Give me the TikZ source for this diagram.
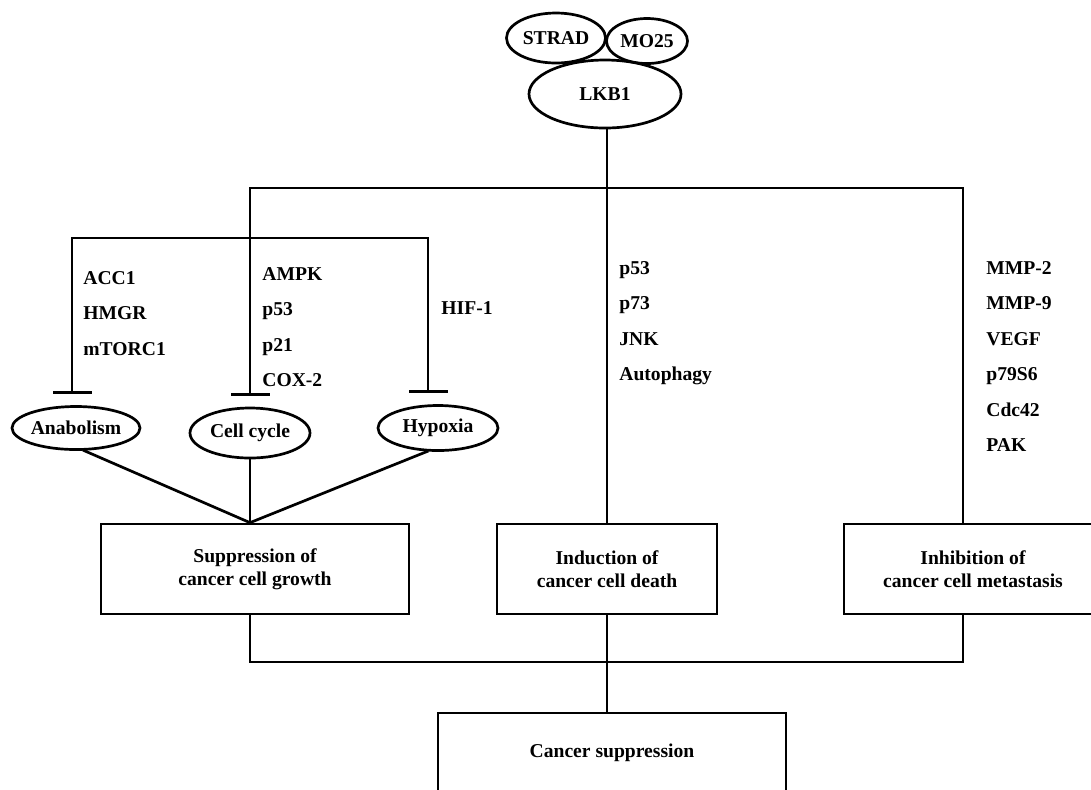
\documentclass[tikz,border=0pt]{standalone}
\usepackage{fontspec}
\setmainfont{Liberation Serif}
\usepackage{tikz}
\usetikzlibrary{positioning,shapes,arrows.meta}

\begin{document}
\begin{tikzpicture}[
            x=0.5pt, y=-0.5pt,
            font=\fontsize{9.8}{11.5}\selectfont\bfseries,
            line/.style={
                line width=1.35pt,
                line cap=rect
            },
            box/.style={
                draw,
                rectangle,
                line width=1.35pt,
                align=center,
                minimum height=45pt,
                inner sep=0pt
            },
            oval/.style={
                draw,
                ellipse,
                line width=1.35pt,
                inner sep=0pt
            },
            inhib/.style={
                line width=1.35pt,
                -{Bar[width=19.5pt, line width=1.35pt]},
                shorten >=5.5pt
            },
            genes/.style={
                anchor=north west,
                align=left,
                inner sep=0pt,
                font=\fontsize{9.8}{17.75}\selectfont\bfseries
            }
        ]
            \useasboundingbox (0,0) rectangle (1091,789);

            % LKB1 complex
            \node (strad) [oval, minimum width=49.5pt, minimum height=25pt] at (556,38) {STRAD};
            \node (mo25) [oval, minimum width=40.5pt, minimum height=22.5pt] at (647,41) {MO25};
            \node (lkb1) [oval, minimum width=76pt, minimum height=34pt] at (605,94) {LKB1};

            % processes
            \node (anab) [oval, minimum width=64pt, minimum height=21.5pt] at (76,428) {Anabolism};
            \node (cc) [oval, minimum width=60pt, minimum height=25pt] at (250,433) {Cell cycle};
            \node (hyp) [oval, minimum width=60pt, minimum height=22.5pt] at (438,428) {Hypoxia};

            % outcomes
            \node (supp) [box, minimum width=154pt] at (255,569) {Suppression of\\cancer cell growth};
            \node (ind) [box, minimum width=110pt] at (607,569) {Induction of\\cancer cell death};
            \node (inh) [box, minimum width=129pt] at (973,569) {Inhibition of\\cancer cell metastasis};
            \node (canc) [box, minimum width=174pt, minimum height=40pt] at (612,753) {Cancer suppression};

            % targets
            \node (acc) [genes] at (83,271) {ACC1\\HMGR\\mTORC1};
            \node (ampk) [genes] at (262,267) {AMPK\\p53\\p21\\COX-2};
            \node (hif) [genes] at (441,301) {HIF-1};
            \node (p53) [genes] at (619,261) {p53\\p73\\JNK\\Autophagy};
            \node (mmp) [genes] at (986,261) {MMP-2\\MMP-9\\VEGF\\p79S6\\Cdc42\\PAK};

            \coordinate (jL) at (250,188);
            \coordinate (jR) at (963,188);
            \coordinate (kL) at (72,238);
            \coordinate (kR) at (428,238);
            \coordinate (bL) at (250,662);
            \coordinate (bR) at (963,662);

            \draw[line] (lkb1.south -| ind.north) -- (ind.north);
            \draw[line] (jL) -- (jR) -- (jR |- inh.north);
            \draw[line] (kL) -- (kR);
            \draw[inhib] (jL) -- (jL |- cc.north);
            \draw[inhib] (kL) -- (kL |- anab.north);
            \draw[inhib] (kR) -- (kR |- hyp.north);

            \draw[line] (anab.-70) -- (cc.south |- supp.north) -- (hyp.-115);
            \draw[line] (cc.south) -- (cc.south |- supp.north);

            \draw[line] (bL |- supp.south) -- (bL) -- (bR) -- (bR |- inh.south);
            \draw[line] (ind.south) -- (ind.south |- canc.north);
        \end{tikzpicture}
\end{document}
